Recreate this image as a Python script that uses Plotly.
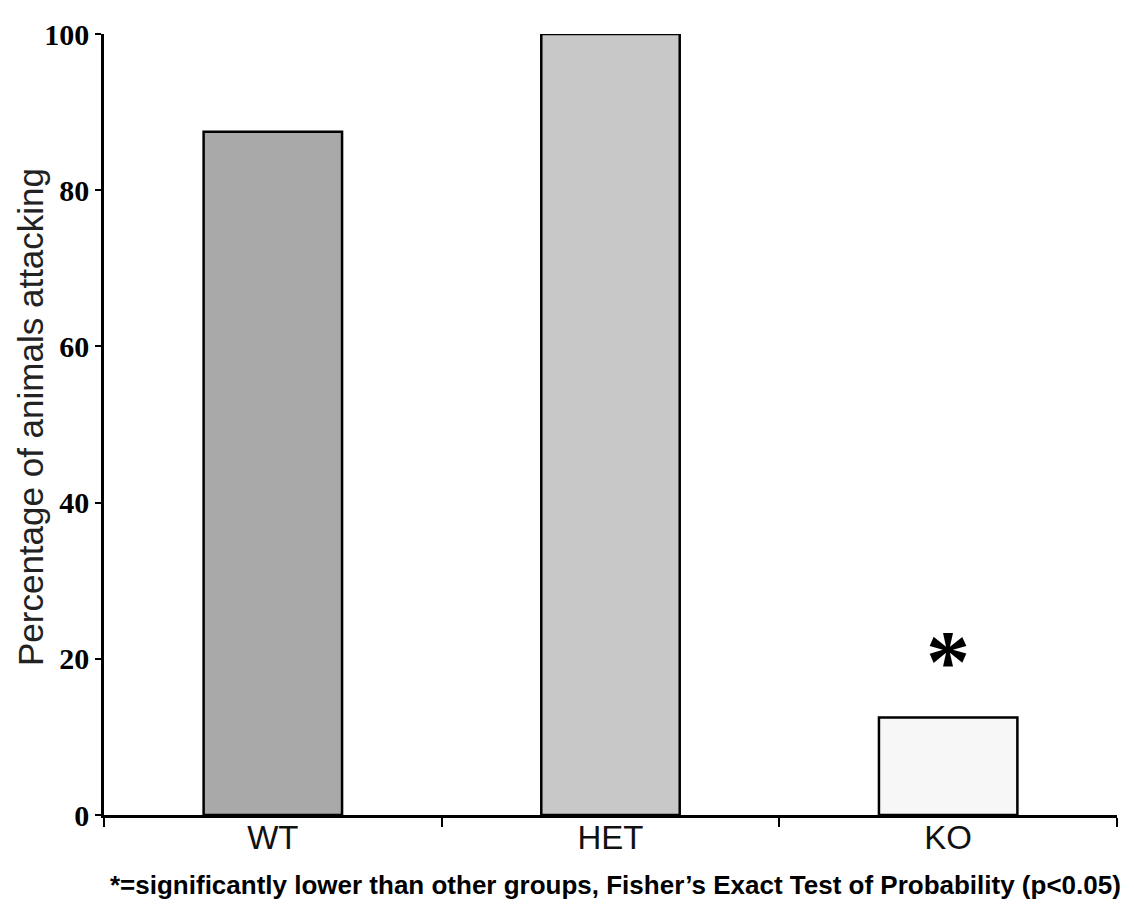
import plotly.graph_objects as go

categories = ["WT", "HET", "KO"]
values = [87.5, 100, 12.5]
bar_colors = ["#a9a9a9", "#c8c8c8", "#f7f7f7"]
y_ticks = [0, 20, 40, 60, 80, 100]
y_title = "Percentage of animals attacking"
footnote = "*=significantly lower than other groups, Fisher\u2019s Exact Test of Probability (p<0.05)"
sig_marker_cat = "KO"
sig_marker_y = 19.6

fig = go.Figure()
fig.add_trace(go.Bar(
    x=categories, y=values, width=0.41,
    marker=dict(color=bar_colors, line=dict(color="black", width=2.5)),
    showlegend=False,
))

# page has 8px body margin
OFF = 8
W, H = 1118, 892
L = 104 - OFF
T = 30 - OFF
R = W + OFF - 1117
B = H + OFF - 815
pw = W - L - R

fig.update_layout(
    width=W, height=H,
    margin=dict(l=L, r=R, t=T, b=B),
    plot_bgcolor="white", paper_bgcolor="white",
    xaxis=dict(
        type="category", range=[-0.5, 2.5],
        showline=True, linecolor="black", linewidth=2.5,
        ticks="outside", tickson="boundaries", ticklen=9, tickwidth=2, tickcolor="black",
        ticklabelstandoff=-8,
        tickfont=dict(family="Liberation Sans, Arial", size=33, color="#111"),
        showgrid=False, zeroline=False,
    ),
    yaxis=dict(
        range=[0, 100], tickvals=y_ticks,
        showline=True, linecolor="black", linewidth=2.5,
        ticks="outside", ticklen=6, tickwidth=2, tickcolor="black",
        tickfont=dict(family="Liberation Serif, Times New Roman", size=30, color="black", weight="bold"),
        showgrid=False, zeroline=False,
    ),
    annotations=[
        dict(text=y_title, textangle=-90, xref="paper", yref="paper",
             x=0, y=(815 - 415) / (815 - 30), xanchor="center", yanchor="middle",
             xshift=30 - 104, showarrow=False,
             font=dict(family="Liberation Sans, Arial", size=35, color="#222")),
        dict(text="<b>" + footnote + "</b>", xref="paper", yref="paper",
             x=(615 - 104) / pw, y=0, xanchor="center", yanchor="middle",
             yshift=-(885 - 815), showarrow=False,
             font=dict(family="Liberation Sans, Arial", size=26, color="black")),
        dict(text="<b>*</b>", xref="x", yref="y", x=sig_marker_cat, y=sig_marker_y,
             xanchor="center", yanchor="middle", showarrow=False,
             font=dict(family="Liberation Serif, Times New Roman", size=88, color="black")),
    ],
)

fig.write_html("out.html")
